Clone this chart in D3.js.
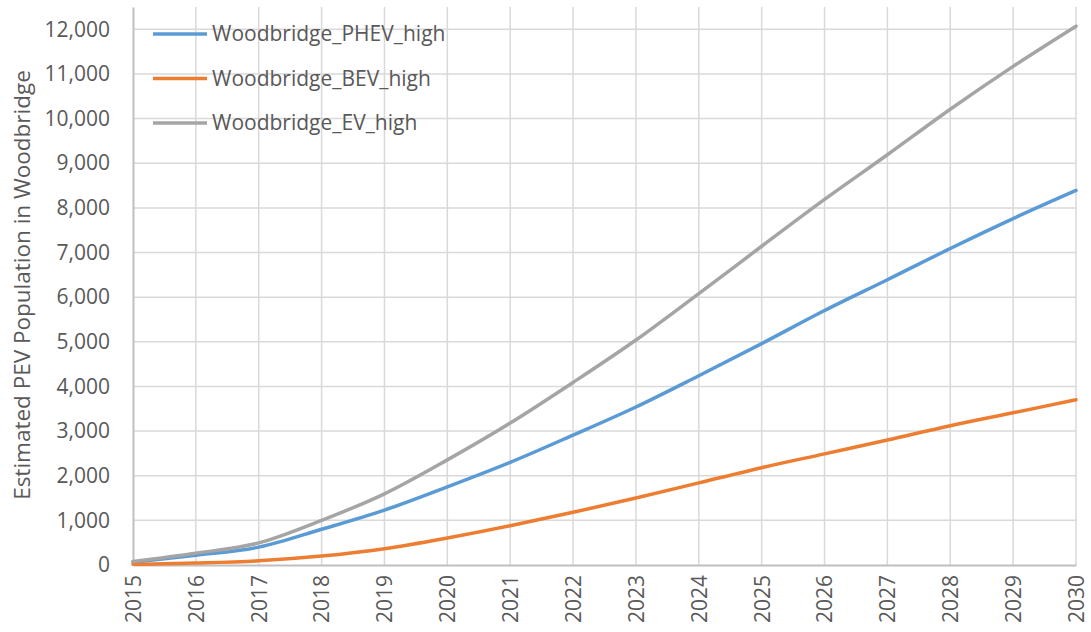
<!DOCTYPE html>
<html><head><meta charset="utf-8">
<script src="https://cdn.jsdelivr.net/npm/d3@7"></script>
<style>html,body{margin:0;padding:0;background:#fff;} svg{display:block;}</style>
</head><body>
<svg id="chart" width="1091" height="632"></svg>
<script>
const years = [2015,2016,2017,2018,2019,2020,2021,2022,2023,2024,2025,2026,2027,2028,2029,2030];
const phev = [65,220,400,800,1230,1750,2300,2910,3540,4240,4960,5700,6390,7090,7760,8390];
const bev  = [15,45,95,200,365,605,880,1180,1500,1840,2180,2490,2800,3120,3410,3700];
const ev   = [80,265,495,1000,1595,2355,3180,4090,5040,6080,7140,8190,9190,10210,11170,12070];
const yTicks = [0,1000,2000,3000,4000,5000,6000,7000,8000,9000,10000,11000,12000];
const seriesNames = ["Woodbridge_PHEV_high","Woodbridge_BEV_high","Woodbridge_EV_high"];
const seriesColors = ["#5b9bd5","#ed7d31","#a5a5a5"];
const seriesData = [phev, bev, ev];

const font = "'Open Sans', 'Noto Sans', sans-serif";
const textColor = "#595959";
const svg = d3.select("#chart");
const pL = 133, pR = 1076, pT = 7, pB = 565;

const x = d3.scaleLinear().domain([2015,2030]).range([pL,pR]);
const y = d3.scaleLinear().domain([0,12500]).range([pB,pT]);

// gridlines
const grid = svg.append("g");
grid.selectAll("line.h").data(yTicks.filter(d=>d>0)).join("line")
  .attr("x1",pL).attr("x2",pR).attr("y1",d=>y(d)).attr("y2",d=>y(d))
  .attr("stroke","#d9d9d9").attr("stroke-width",1.5);
grid.selectAll("line.v").data(years.filter(d=>d>2015)).join("line")
  .attr("x1",d=>x(d)).attr("x2",d=>x(d)).attr("y1",pT).attr("y2",pB)
  .attr("stroke","#d9d9d9").attr("stroke-width",1.5);

// axes
const yAxis = d3.axisLeft(y).tickValues(yTicks).tickSize(0).tickPadding(23)
  .tickFormat(d3.format(","));
const gy = svg.append("g").attr("transform",`translate(${pL},0)`).call(yAxis);
gy.select(".domain").attr("stroke","#bfbfbf").attr("stroke-width",2);
gy.selectAll("text").attr("font-family",font).attr("font-size",21).attr("fill",textColor);

const xAxis = d3.axisBottom(x).tickValues(years).tickSize(0).tickFormat(d3.format("d"));
const gx = svg.append("g").attr("transform",`translate(0,${pB})`).call(xAxis);
gx.select(".domain").attr("stroke","#bfbfbf").attr("stroke-width",2);
gx.selectAll("text").attr("font-family",font).attr("font-size",21).attr("fill",textColor)
  .attr("transform","rotate(-90)").attr("text-anchor","end").attr("x",-10).attr("y",0).attr("dy","0.35em");

// lines
const line = d3.line().x((d,i)=>x(years[i])).y(d=>y(d)).curve(d3.curveMonotoneX);
seriesData.forEach((s,k)=>{
  svg.append("path").datum(s).attr("d",line).attr("fill","none")
    .attr("stroke",seriesColors[k]).attr("stroke-width",3.5).attr("stroke-linecap","round");
});

// legend
const lg = svg.append("g");
seriesNames.forEach((n,k)=>{
  const ly = 34 + k*44.5;
  lg.append("line").attr("x1",153).attr("x2",207).attr("y1",ly).attr("y2",ly)
    .attr("stroke",seriesColors[k]).attr("stroke-width",3.5);
  lg.append("text").attr("x",212).attr("y",ly).attr("dy","0.35em")
    .attr("font-family",font).attr("font-size",21).attr("fill",textColor).text(n);
});

// y title
svg.append("text").attr("transform","translate(22,285) rotate(-90)")
  .attr("text-anchor","middle").attr("dy","0.35em")
  .attr("font-family",font).attr("font-size",22.5).attr("fill",textColor)
  .text("Estimated PEV Population in Woodbridge");
</script>
</body></html>
